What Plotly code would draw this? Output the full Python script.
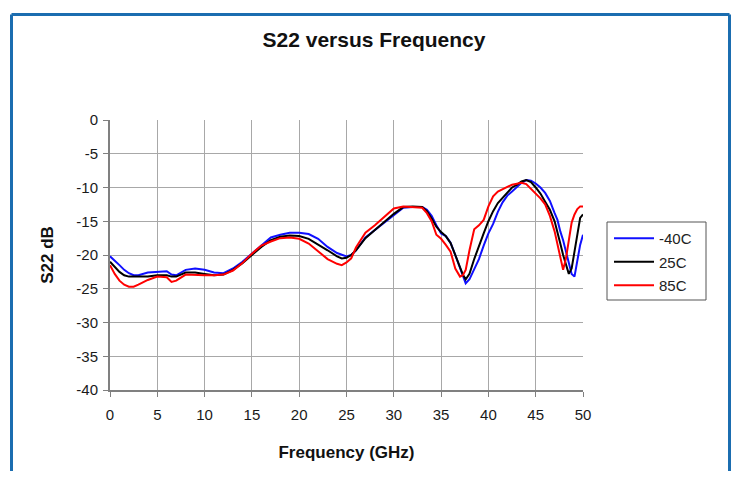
import plotly.graph_objects as go

freq_ghz = [0, 0.5, 1, 1.5, 2, 2.5, 3, 4, 5, 6, 6.5, 7, 8, 9, 10, 11, 12, 13, 14, 15,
            16, 17, 18, 19, 20, 21, 22, 23, 24, 24.5, 25, 25.5, 26, 27, 28, 29, 30, 31, 32, 33,
            33.5, 34, 34.5, 35, 35.5, 36, 36.5, 37, 37.3, 37.6, 38, 38.5, 39, 39.5, 40, 40.5,
            41, 41.5, 42, 42.5, 43, 43.5, 44, 44.5, 45, 45.5, 46, 46.5, 47, 47.3, 47.6, 47.9,
            48.2, 48.5, 48.8, 49.1, 49.4, 49.7, 50]

s22_m40c = [-20.2, -20.8, -21.5, -22.2, -22.7, -23.0, -23.0, -22.6, -22.5, -22.4, -22.9, -23.0,
            -22.2, -22.0, -22.2, -22.6, -22.7, -22.0, -21.0, -19.8, -18.6, -17.4, -17.0, -16.7,
            -16.7, -16.9, -17.6, -18.8, -19.7, -20.0, -20.2, -20.0, -19.3, -17.4, -16.3, -15.2,
            -14.2, -13.0, -12.9, -12.9, -13.3, -14.2, -15.6, -16.8, -17.2, -18.2, -20.0, -22.0,
            -23.2, -24.2, -23.6, -22.0, -20.6, -18.6, -16.8, -15.4, -13.6, -12.2, -11.2, -10.6,
            -10.0, -9.3, -8.9, -9.0, -9.4, -10.0, -10.8, -12.0, -13.8, -14.8, -16.5, -17.8,
            -19.5, -21.2, -22.8, -23.2, -21.0, -18.5, -17.0]

s22_25c = [-21.0, -21.8, -22.5, -23.0, -23.2, -23.2, -23.2, -23.2, -23.0, -23.0, -23.2, -23.2,
           -22.6, -22.6, -22.8, -23.0, -22.9, -22.2, -21.2, -20.0, -18.8, -17.8, -17.3, -17.1,
           -17.2, -17.6, -18.4, -19.3, -20.2, -20.5, -20.4, -20.0, -19.3, -17.5, -16.3, -15.1,
           -13.9, -12.9, -12.8, -12.9, -13.5, -14.6, -15.8, -16.6, -17.2, -18.2, -20.0, -22.0,
           -22.9, -23.6, -22.8, -20.6, -18.6, -16.8, -15.0, -13.5, -12.3, -11.5, -10.8, -10.0,
           -9.6, -9.1, -8.9, -9.2, -10.0, -10.9, -12.1, -13.3, -15.0, -16.5, -18.3, -20.0,
           -21.5, -22.8, -22.0, -19.5, -16.5, -14.5, -14.0]

s22_85c = [-21.5, -22.8, -23.8, -24.4, -24.7, -24.7, -24.4, -23.7, -23.2, -23.3, -24.0, -23.8,
           -22.9, -23.0, -23.0, -23.0, -22.9, -22.3, -21.2, -19.8, -18.6, -18.0, -17.5, -17.4,
           -17.6, -18.3, -19.5, -20.6, -21.3, -21.5, -21.1, -20.5, -18.9, -16.7, -15.6, -14.3,
           -13.1, -12.8, -12.9, -13.0, -13.8, -15.0, -17.0, -17.6, -18.5, -19.5, -22.0, -23.2,
           -23.0, -22.2, -19.3, -16.2, -15.6, -14.8, -12.8, -11.3, -10.6, -10.2, -9.9, -9.6,
           -9.4, -9.3, -9.5, -10.2, -11.0, -11.6, -12.5, -14.2, -16.5, -18.5, -20.3, -22.2,
           -20.5, -17.5, -15.2, -14.0, -13.2, -12.8, -12.8]

series_names = ["-40C", "25C", "85C"]
series_colors = ["#1010ff", "#000000", "#ff0000"]
x_ticks = [0, 5, 10, 15, 20, 25, 30, 35, 40, 45, 50]
y_ticks = [0, -5, -10, -15, -20, -25, -30, -35, -40]

FONT = "Liberation Sans, Arial, sans-serif"

fig = go.Figure()
for name, vals, col in zip(series_names, [s22_m40c, s22_25c, s22_85c], series_colors):
    fig.add_trace(go.Scatter(x=freq_ghz, y=vals, mode="lines", name=name,
                             legendgroup=name,
                             line=dict(color=col, width=2)))

# page has an 8px body margin; work in window pixels and subtract it
OFF = 8
L, R, T, B = 110 - OFF, 583 - OFF, 120 - OFF, 390 - OFF
W, H = 740 - 2 * OFF, 479 - 2 * OFF
pw, ph = R - L, B - T

def px2paper_x(px):
    return (px - OFF - L) / pw

def px2paper_y(py):
    return (B - (py - OFF)) / ph

fig.update_layout(
    width=W, height=H,
    margin=dict(l=L, r=W - R, t=T, b=H - B, autoexpand=False),
    paper_bgcolor="white", plot_bgcolor="white",
    font=dict(family=FONT, size=15, color="#1a1a1a"),
    title=dict(text="<b>S22 versus Frequency</b>", x=px2paper_x(374), xref="paper",
               xanchor="center", y=1 - (40 - OFF) / H, yanchor="middle",
               font=dict(size=21, color="#111111")),
    showlegend=True,
    legend=dict(x=px2paper_x(609), y=px2paper_y(222), xanchor="left", yanchor="top",
                borderwidth=0, bgcolor="rgba(0,0,0,0)",
                font=dict(size=15, color="#222222"), traceorder="grouped",
                tracegroupgap=1, itemwidth=40),
    xaxis=dict(range=[0, 50], tickvals=x_ticks, ticktext=[str(v) for v in x_ticks],
               showgrid=True, gridcolor="#a8a8a8", gridwidth=1,
               showline=True, linecolor="#808080", linewidth=2,
               ticks="outside", ticklen=5, tickcolor="#808080", tickwidth=1,
               ticklabelstandoff=5, zeroline=False,
               title=dict(text="<b>Frequency (GHz)</b>", font=dict(size=17, color="#111111"),
                          standoff=24)),
    yaxis=dict(range=[-40, 0], tickvals=y_ticks, ticktext=[str(v) for v in y_ticks],
               showgrid=True, gridcolor="#a8a8a8", gridwidth=1,
               showline=True, linecolor="#808080", linewidth=2,
               ticks="outside", ticklen=5, tickcolor="#808080", tickwidth=1,
               ticklabelstandoff=2, zeroline=False,
               title=dict(text="<b>S22 dB</b>", font=dict(size=17, color="#111111"),
                          standoff=18)),
)

# legend box
fig.add_shape(type="rect", xref="paper", yref="paper",
              x0=px2paper_x(607), x1=px2paper_x(706),
              y0=px2paper_y(300), y1=px2paper_y(222),
              line=dict(color="#555555", width=1), fillcolor="white", layer="below")

# outer blue frame (left, top, right edges)
FRAME = dict(color="#1b6db0", width=3)
x_left, x_right = px2paper_x(11.5), px2paper_x(729.5)
y_top, y_bot = px2paper_y(14.5), px2paper_y(480)
fig.add_shape(type="line", xref="paper", yref="paper", x0=x_left, x1=x_left,
              y0=y_bot, y1=y_top, line=FRAME, layer="above")
fig.add_shape(type="line", xref="paper", yref="paper", x0=x_left, x1=x_right,
              y0=y_top, y1=y_top, line=FRAME, layer="above")
fig.add_shape(type="line", xref="paper", yref="paper", x0=x_right, x1=x_right,
              y0=y_bot, y1=y_top, line=FRAME, layer="above")

fig.write_html("out.html")
